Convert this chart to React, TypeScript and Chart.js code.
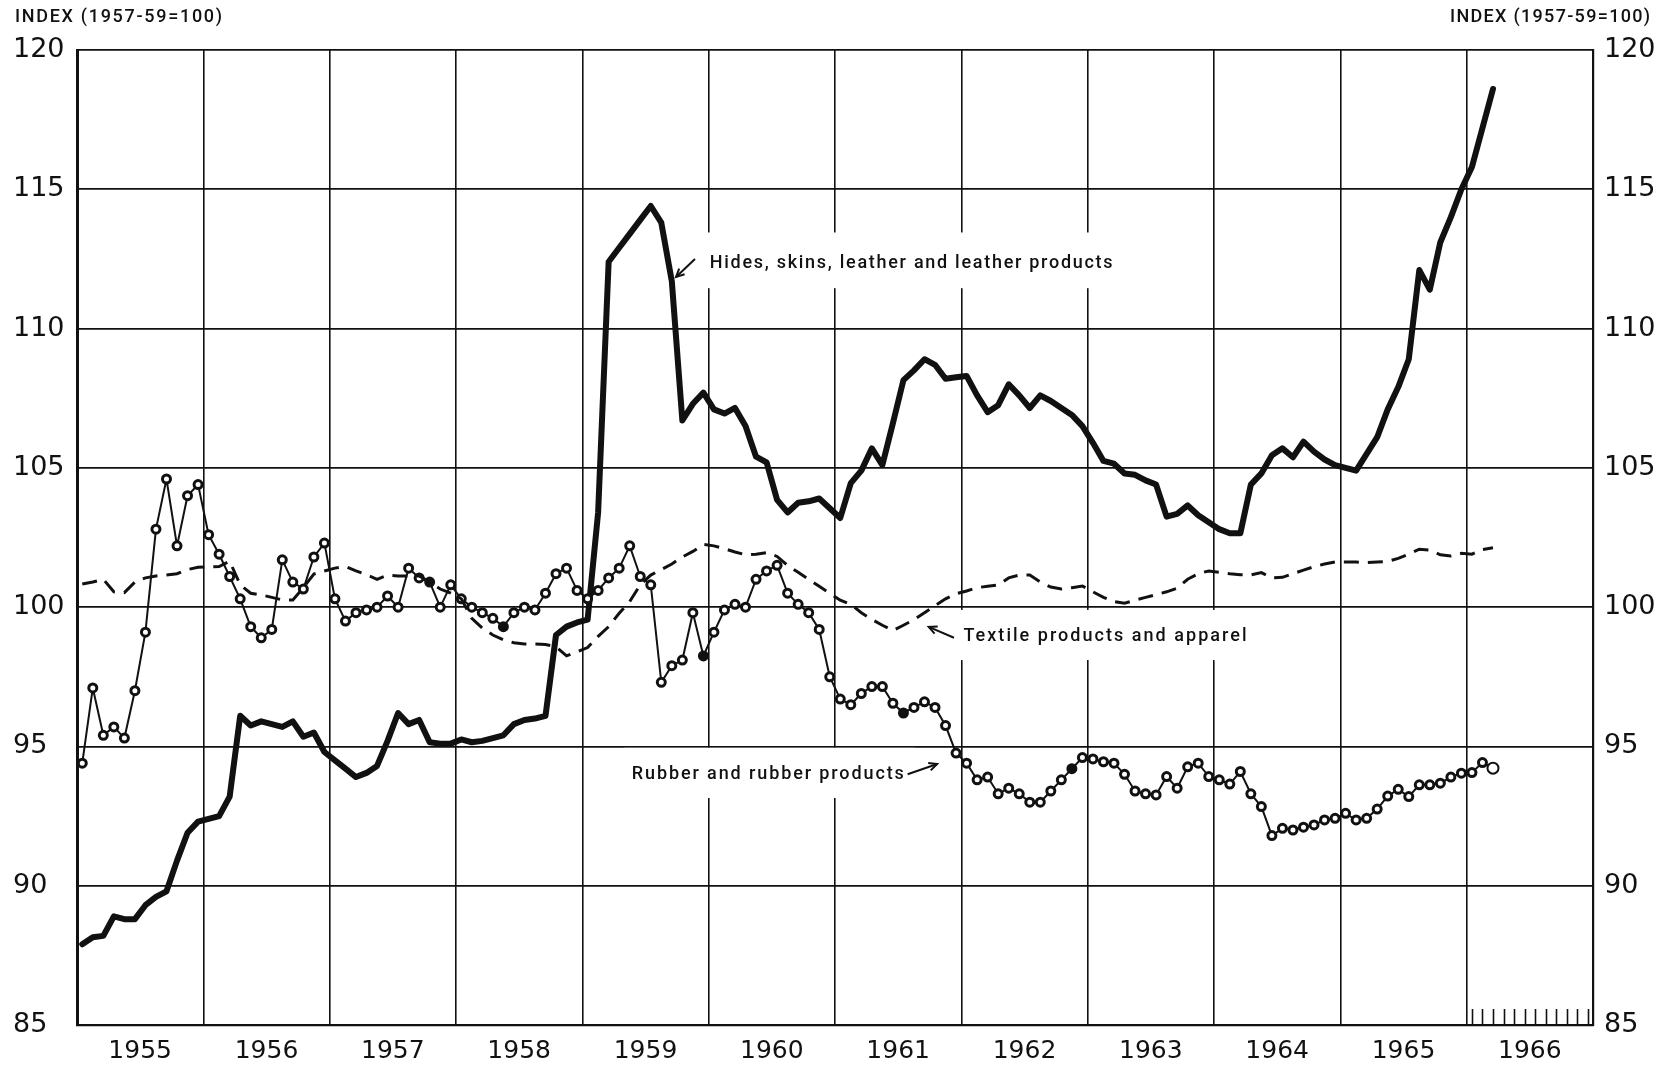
import React, { useEffect, useRef } from 'react';
import { Chart, registerables } from 'chart.js';

Chart.register(...registerables);

// ---------- data (monthly, Jan 1955 .. Mar 1966) ----------
const years = ['1955', '1956', '1957', '1958', '1959', '1960', '1961', '1962', '1963', '1964', '1965', '1966'];
const yTicks = [85, 90, 95, 100, 105, 110, 115, 120];

const hides = [
  87.9, 88.15, 88.2, 88.9, 88.8, 88.8, 89.3, 89.6, 89.8, 90.9, 91.9, 92.3,
  92.4, 92.5, 93.2, 96.1, 95.75, 95.9, 95.8, 95.7, 95.9, 95.35, 95.5, 94.8,
  94.5, 94.2, 93.9, 94.05, 94.3, 95.2, 96.2, 95.8, 95.95, 95.15, 95.1, 95.1,
  95.25, 95.15, 95.2, 95.3, 95.4, 95.8, 95.95, 96.0, 96.1, 99.0, 99.3, 99.45,
  99.55, 103.4, 112.4, 112.9, 113.4, 113.9, 114.4, 113.8, 111.7, 106.7, 107.3, 107.7,
  107.1, 106.95, 107.15, 106.5, 105.4, 105.2, 103.85, 103.4, 103.75, 103.8, 103.9, 103.55,
  103.2, 104.45, 104.9, 105.7, 105.1, 106.6, 108.15, 108.5, 108.9, 108.7, 108.2, 108.25,
  108.3, 107.6, 107.0, 107.25, 108.0, 107.6, 107.15, 107.6, 107.4, 107.15, 106.9, 106.5,
  105.9, 105.25, 105.15, 104.8, 104.75, 104.55, 104.4, 103.25, 103.35, 103.65, 103.3, 103.05,
  102.8, 102.65, 102.65, 104.4, 104.8, 105.45, 105.7, 105.38, 105.94, 105.58, 105.3, 105.1,
  105.0, 104.9, 105.5, 106.1, 107.1, 107.9, 108.9, 112.1, 111.4, 113.1, 114.0, 115.0,
  115.8, 117.2, 118.6,
];

const textile = [
  100.83, 100.9, 101.0, 100.55, 100.52, 100.9, 101.05, 101.12, 101.15, 101.2, 101.35, 101.43,
  101.45, 101.46, 101.65, 100.8, 100.5, 100.44, 100.35, 100.26, 100.26, 100.7, 101.19, 101.3,
  101.4, 101.46, 101.3, 101.16, 101.0, 101.15, 101.12, 101.12, 101.12, 100.9, 100.65, 100.5,
  100.3, 99.6, 99.25, 99.0, 98.83, 98.72, 98.68, 98.68, 98.66, 98.58, 98.25, 98.4,
  98.55, 98.95, 99.3, 99.78, 100.2, 100.8, 101.15, 101.35, 101.55, 101.8, 102.0, 102.25,
  102.2, 102.1, 101.98, 101.88, 101.9, 101.96, 101.82, 101.5, 101.25, 101.0, 100.75, 100.5,
  100.25, 100.1, 99.8, 99.56, 99.35, 99.16, 99.35, 99.55, 99.8, 100.05, 100.3, 100.48,
  100.58, 100.7, 100.75, 100.8, 101.05, 101.15, 101.15, 100.9, 100.72, 100.65, 100.7, 100.76,
  100.55, 100.35, 100.2, 100.14, 100.25, 100.35, 100.45, 100.55, 100.68, 101.0, 101.2, 101.3,
  101.25, 101.2, 101.16, 101.16, 101.24, 101.05, 101.07, 101.2, 101.33, 101.45, 101.55, 101.62,
  101.62, 101.62, 101.6, 101.62, 101.64, 101.75, 101.9, 102.08, 102.05, 101.88, 101.84, 101.93,
  101.9, 102.07, 102.13,
];

const rubber = [
  94.4, 97.1, 95.4, 95.7, 95.3, 97.0, 99.1, 102.8, 104.6, 102.2, 104.0, 104.4,
  102.6, 101.9, 101.1, 100.3, 99.3, 98.9, 99.2, 101.7, 100.9, 100.65, 101.8, 102.3,
  100.3, 99.5, 99.8, 99.9, 100.0, 100.4, 100.0, 101.4, 101.05, 100.9, 100.0, 100.8,
  100.3, 100.0, 99.8, 99.6, 99.3, 99.8, 100.0, 99.9, 100.5, 101.2, 101.4, 100.6,
  100.3, 100.6, 101.05, 101.4, 102.2, 101.1, 100.8, 97.3, 97.9, 98.1, 99.8, 98.25,
  99.1, 99.9, 100.1, 100.0, 101.0, 101.3, 101.5, 100.5, 100.1, 99.8, 99.2, 97.5,
  96.7, 96.5, 96.9, 97.15, 97.15, 96.55, 96.2, 96.4, 96.6, 96.4, 95.75, 94.76,
  94.4, 93.8, 93.9, 93.3, 93.5, 93.3, 93.0, 93.0, 93.4, 93.8, 94.2, 94.6,
  94.55, 94.45, 94.4, 94.0, 93.4, 93.3, 93.26, 93.92, 93.5, 94.27, 94.4, 93.92,
  93.8, 93.65, 94.1, 93.3, 92.84, 91.8, 92.06, 92.0, 92.1, 92.18, 92.36, 92.42,
  92.6, 92.36, 92.42, 92.75, 93.22, 93.46, 93.2, 93.62, 93.62, 93.68, 93.9, 94.04,
  94.06, 94.42, 94.22,
];
// months whose rubber marker is drawn solid
const rubberSolid = [33, 40, 59, 78, 94];

// annotation labels (x in months from Jan 1955, y in index units)
const notes = [
  { text: 'Hides, skins, leather and leather products', x: 60.1, y: 112.35, width: 403,
    box: [59.2, 113.45, 99.3, 111.45], arrow: [58.7, 112.5, 56.9, 111.85] },
  { text: 'Textile products and apparel', x: 84.2, y: 98.93, width: 283,
    box: [82.9, 99.9, 112.0, 98.1], arrow: [83.3, 98.9, 80.9, 99.29] },
  { text: 'Rubber and rubber products', x: 52.7, y: 94.0, width: 272,
    box: [52.0, 94.95, 79.6, 93.15], arrow: [78.9, 94.0, 81.7, 94.37] },
];

const INK = '#111';
const TICK_FONT = '"DejaVu Sans", sans-serif';
const NOTE_FONT = 'Roboto, "Liberation Sans", Arial, sans-serif';

function spacedText(ctx: CanvasRenderingContext2D, text: string, x: number, y: number, target: number) {
  (ctx as any).letterSpacing = '0px';
  const w0 = ctx.measureText(text).width;
  const sp = (target - w0) / Math.max(1, text.length - 1);
  (ctx as any).letterSpacing = sp.toFixed(2) + 'px';
  ctx.fillText(text, x, y);
  (ctx as any).letterSpacing = '0px';
}

function arrow(ctx: CanvasRenderingContext2D, x1: number, y1: number, x2: number, y2: number) {
  ctx.beginPath();
  ctx.moveTo(x1, y1);
  ctx.lineTo(x2, y2);
  ctx.stroke();
  const a = Math.atan2(y2 - y1, x2 - x1);
  const L = 9;
  ctx.beginPath();
  ctx.moveTo(x2 - L * Math.cos(a - 0.45), y2 - L * Math.sin(a - 0.45));
  ctx.lineTo(x2, y2);
  ctx.lineTo(x2 - L * Math.cos(a + 0.45), y2 - L * Math.sin(a + 0.45));
  ctx.stroke();
}

const overlay = {
  id: 'overlay',
  beforeDatasetsDraw(chart: any) {
    const { ctx, scales } = chart;
    const sx = scales.x;
    const sy = scales.y;
    ctx.save();
    ctx.fillStyle = '#fff';
    for (const n of notes) {
      const x1 = sx.getPixelForValue(n.box[0]);
      const y1 = sy.getPixelForValue(n.box[1]);
      const x2 = sx.getPixelForValue(n.box[2]);
      const y2 = sy.getPixelForValue(n.box[3]);
      ctx.fillRect(x1, y1, x2 - x1, y2 - y1);
    }
    ctx.restore();
  },
  afterDraw(chart: any) {
    const { ctx, scales, chartArea } = chart;
    const sx = scales.x;
    const sy = scales.y;
    ctx.save();
    ctx.fillStyle = INK;
    ctx.strokeStyle = INK;
    // header labels
    ctx.font = '500 18px ' + NOTE_FONT;
    ctx.textBaseline = 'middle';
    ctx.textAlign = 'left';
    spacedText(ctx, 'INDEX (1957-59=100)', 15, 17, 207);
    spacedText(ctx, 'INDEX (1957-59=100)', 1450, 17, 200);
    // annotations
    ctx.font = '500 18px ' + NOTE_FONT;
    for (const n of notes) {
      spacedText(ctx, n.text, sx.getPixelForValue(n.x), sy.getPixelForValue(n.y), n.width);
      ctx.lineWidth = 2;
      arrow(ctx, sx.getPixelForValue(n.arrow[0]), sy.getPixelForValue(n.arrow[1]),
        sx.getPixelForValue(n.arrow[2]), sy.getPixelForValue(n.arrow[3]));
    }
    // monthly ticks in the last year
    ctx.lineWidth = 1.6;
    for (let k = 0; k < 12; k++) {
      const px = Math.round(sx.getPixelForValue(132 + k + 0.5)) + 0.5;
      ctx.beginPath();
      ctx.moveTo(px, chartArea.bottom);
      ctx.lineTo(px, chartArea.bottom - 16);
      ctx.stroke();
    }
    ctx.restore();
  },
};

export default function App() {
  const ref = useRef<HTMLCanvasElement>(null);

  useEffect(() => {
    document.body.style.margin = '0';
    const toXY = (arr: number[]) => arr.map((v, i) => ({ x: i + 0.5, y: v }));
    const xTicks: number[] = [];
    for (let v = 0; v <= 144; v += 6) xTicks.push(v);

    const chart = new Chart(ref.current as HTMLCanvasElement, {
      type: 'line',
      data: {
        datasets: [
          {
            label: 'Textile products and apparel',
            data: toXY(textile),
            borderColor: INK,
            borderWidth: 3,
            borderDash: [15, 9],
            pointRadius: 0,
            tension: 0,
            fill: false,
          },
          {
            label: 'Rubber and rubber products',
            data: toXY(rubber),
            borderColor: INK,
            borderWidth: 2,
            tension: 0,
            fill: false,
            pointStyle: 'circle',
            pointRadius: (c: any) => (c.dataIndex === rubber.length - 1 ? 5.5 : 4),
            pointBorderWidth: (c: any) => (c.dataIndex === rubber.length - 1 ? 2 : 3),
            pointBorderColor: INK,
            pointBackgroundColor: (c: any) => (rubberSolid.includes(c.dataIndex) ? INK : '#fff'),
          },
          {
            label: 'Hides, skins, leather and leather products',
            data: toXY(hides),
            borderColor: INK,
            borderWidth: 6,
            borderJoinStyle: 'round',
            borderCapStyle: 'round',
            pointRadius: 0,
            tension: 0,
            fill: false,
          },
        ],
      },
      options: {
        responsive: false,
        animation: false,
        events: [],
        layout: { padding: { top: 50, left: 13, right: 0, bottom: 0 } },
        plugins: { legend: { display: false }, tooltip: { enabled: false } },
        scales: {
          x: {
            type: 'linear',
            min: 0,
            max: 144,
            position: 'bottom',
            afterBuildTicks: (s: any) => { s.ticks = xTicks.map((v) => ({ value: v })); },
            afterFit: (s: any) => { s.height = 43; },
            grid: {
              color: (c: any) => (c.tick && c.tick.value % 12 === 0 ? INK : 'rgba(0,0,0,0)'),
              lineWidth: 1.6,
              drawTicks: false,
            },
            border: { display: true, color: INK, width: 2.2 },
            ticks: {
              autoSkip: false,
              maxRotation: 0,
              padding: 11,
              color: INK,
              font: { family: TICK_FONT, size: 25 },
              callback: (v: any) => (v % 12 === 6 ? years[(v - 6) / 12] : ''),
            },
          },
          y: {
            type: 'linear',
            position: 'left',
            min: 85,
            max: 120,
            afterBuildTicks: (s: any) => { s.ticks = yTicks.map((v) => ({ value: v })); },
            afterFit: (s: any) => { s.width = 64; },
            grid: { color: INK, lineWidth: 1.7, drawTicks: false },
            border: { display: true, color: INK, width: 3 },
            ticks: {
              crossAlign: 'far',
              padding: 0,
              color: INK,
              font: { family: TICK_FONT, size: 27 },
              callback: (v: any) => String(v),
            },
          },
          y2: {
            type: 'linear',
            position: 'right',
            min: 85,
            max: 120,
            afterBuildTicks: (s: any) => { s.ticks = yTicks.map((v) => ({ value: v })); },
            afterFit: (s: any) => { s.width = 80; },
            grid: { display: false, drawTicks: false },
            border: { display: true, color: INK, width: 2.2 },
            ticks: {
              padding: 11,
              color: INK,
              font: { family: TICK_FONT, size: 27 },
              callback: (v: any) => String(v),
            },
          },
        },
      } as any,
      plugins: [overlay],
    });
    return () => chart.destroy();
  }, []);

  return (
    <div style={{ position: 'fixed', left: 0, top: 0, width: 1673, height: 1068, background: '#fff' }}>
      <canvas ref={ref} width={1673} height={1068} style={{ width: 1673, height: 1068, display: 'block' }} />
    </div>
  );
}
